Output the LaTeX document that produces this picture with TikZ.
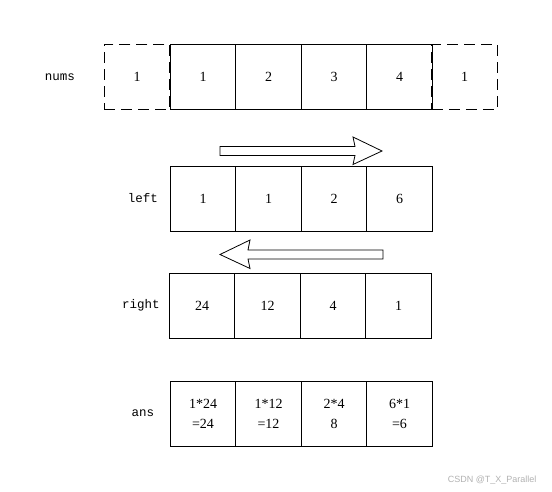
\documentclass[tikz,border=0pt]{standalone}
\usepackage{fontspec}
\setmainfont{Liberation Serif}
\setmonofont{Liberation Mono}
\setsansfont{Liberation Sans}
\begin{document}
\begin{tikzpicture}[x=1pt,y=-1pt,
  cell/.style={draw,line width=0.8pt,minimum width=65.5pt,minimum height=65pt,inner sep=0pt,font=\fontsize{14}{20}\selectfont,align=center},
  dcell/.style={cell,dash pattern=on 11pt off 6pt},
  lab/.style={font=\ttfamily\fontsize{12.5}{14}\selectfont},
  bigarrow/.style={draw,line width=0.8pt,fill=white,line join=miter}]
\useasboundingbox (0,0) rectangle (552,492);
\fill[white] (0,0) rectangle (552,492);
% nums row
\node[dcell] (n0) at (137,77) {1};
\node[dcell] (n5) at (464.5,77) {1};
\node[cell] (n1) at (203,77) {1};
\node[cell] (n2) at (268.5,77) {2};
\node[cell] (n3) at (334,77) {3};
\node[cell] (n4) at (399.5,77) {4};
\node[lab] (lnums) at (60,77) {nums};
% right arrow
\draw[bigarrow] (220,146.5) -- (355,146.5) -- (353,137) -- (382,151) -- (353,164.5) -- (355,155.5) -- (220,155.5) -- cycle;
% left row
\node[cell] (l1) at (203,198.5) {1};
\node[cell] (l2) at (268.5,198.5) {1};
\node[cell] (l3) at (334,198.5) {2};
\node[cell] (l4) at (399.5,198.5) {6};
\node[lab] (lleft) at (143,198.5) {left};
% left arrow
\draw[bigarrow] (383,250) -- (248,250) -- (250,240) -- (220,254.5) -- (250,268.5) -- (248,259) -- (383,259) -- cycle;
% right row
\node[cell] (r1) at (202,305.5) {24};
\node[cell] (r2) at (267.5,305.5) {12};
\node[cell] (r3) at (333,305.5) {4};
\node[cell] (r4) at (398.5,305.5) {1};
\node[lab] (lright) at (141,305.5) {right};
% ans row
\node[cell] (a1) at (203,413.5) {1*24\\=24};
\node[cell] (a2) at (268.5,413.5) {1*12\\=12};
\node[cell] (a3) at (334,413.5) {2*4\\8};
\node[cell] (a4) at (399.5,413.5) {6*1\\=6};
\node[lab] (lans) at (143,413.5) {ans};
% watermark
\node[font=\sffamily\fontsize{9}{10}\selectfont,text=gray!60,anchor=east] (wm) at (540,480) {CSDN @T\_X\_Parallel};
\end{tikzpicture}
\end{document}
